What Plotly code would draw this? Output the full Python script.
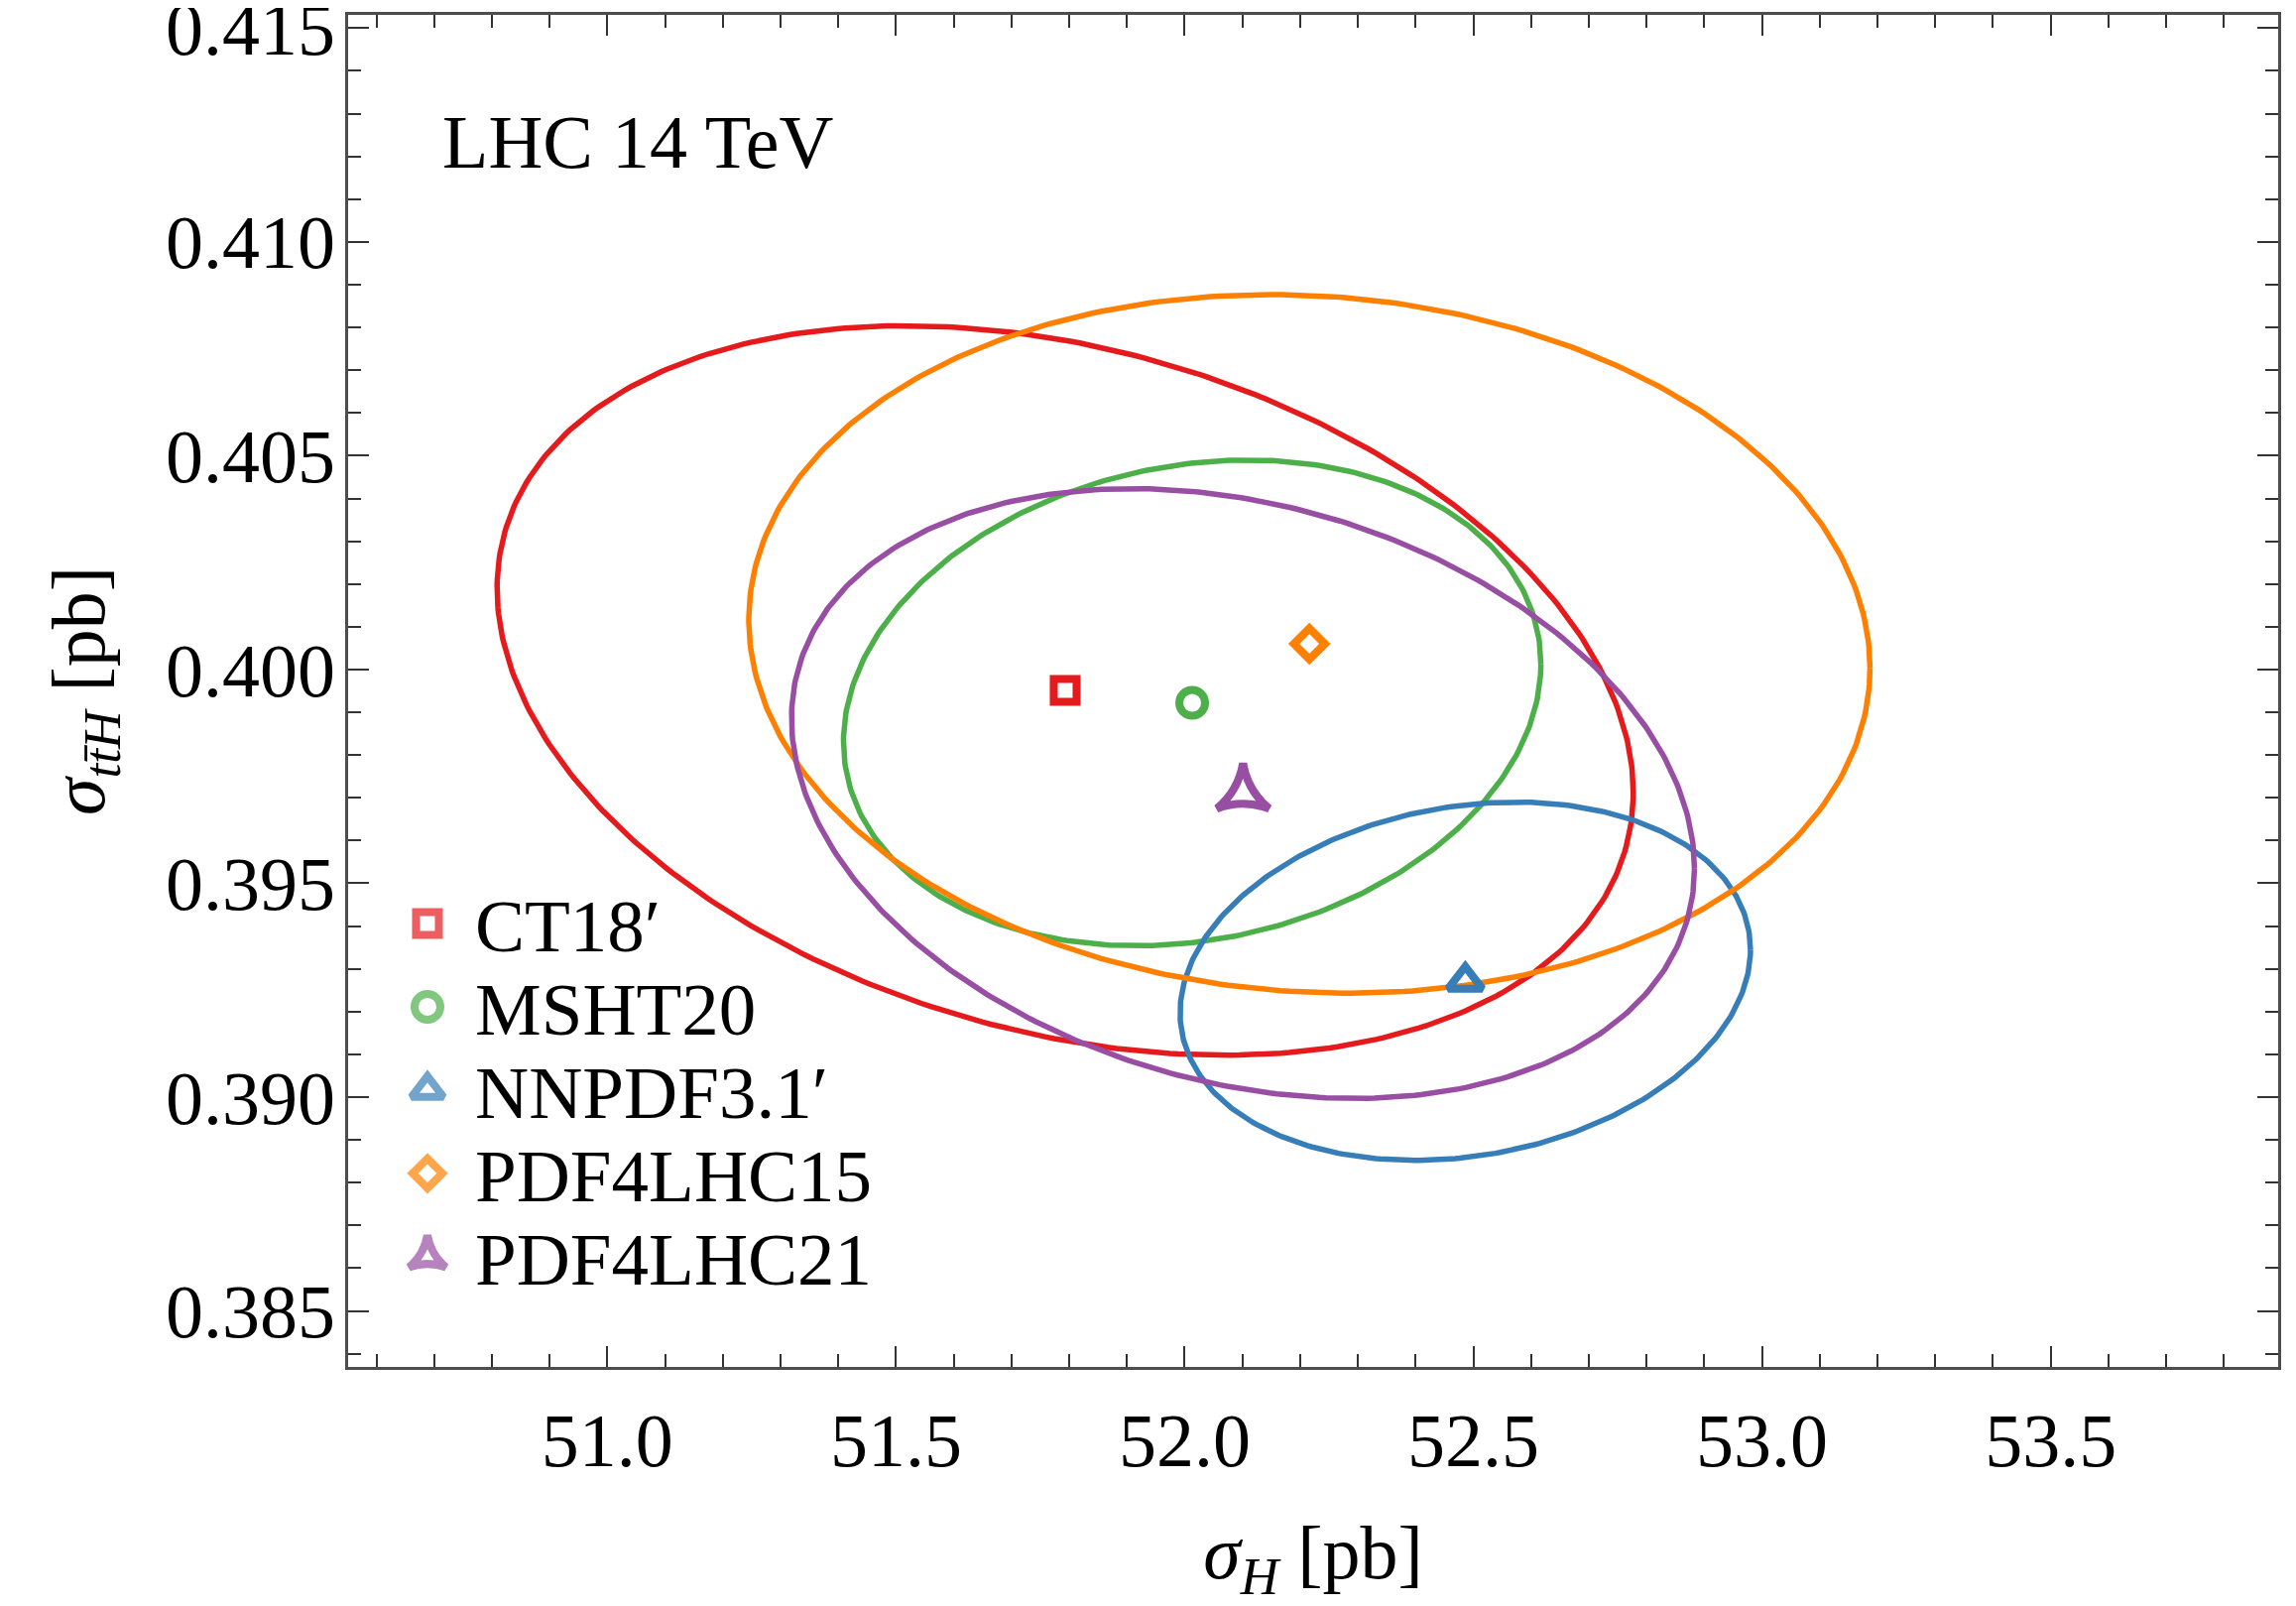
import numpy as np
import plotly.graph_objects as go

# ---------------- data ----------------
pdf_sets = ["CT18′", "MSHT20", "NNPDF3.1′", "PDF4LHC15", "PDF4LHC21"]
colors = ["#e41a1c", "#4daf4a", "#377eb8", "#ff7f00", "#984ea3"]
symbols = ["square-open", "circle-open", "triangle-up-open", "diamond-open", "star-triangle-up-open"]
marker_sizes = [23, 26, 30, 24, 38]
legend_marker_sizes = [23, 26, 28, 23, 27]

# central values
sigma_H = [51.793, 52.013, 52.486, 52.216, 52.101]          # pb
sigma_ttH = [0.39951, 0.39922, 0.39271, 0.40060, 0.39710]   # pb
# ellipse half extents and correlation
err_H = [0.984, 0.604, 0.494, 0.971, 0.782]
err_ttH = [0.00853, 0.00568, 0.00419, 0.00817, 0.00713]
corr = [-0.28, 0.16, 0.176, -0.069, -0.246]

x_range = [50.551, 53.894]
y_range = [0.38369, 0.41531]

FONT = "Liberation Serif, Times New Roman, serif"

fig = go.Figure()

t = np.linspace(0, 2 * np.pi, 400)
for i, name in enumerate(pdf_sets):
    ex = sigma_H[i] + err_H[i] * np.cos(t)
    ey = sigma_ttH[i] + err_ttH[i] * (corr[i] * np.cos(t) + np.sqrt(1 - corr[i] ** 2) * np.sin(t))
    fig.add_trace(go.Scatter(x=ex, y=ey, mode="lines", line=dict(color=colors[i], width=5.5),
                             showlegend=False, hoverinfo="skip"))

for i, name in enumerate(pdf_sets):
    fig.add_trace(go.Scatter(x=[sigma_H[i]], y=[sigma_ttH[i]], mode="markers", name=name,
                             marker=dict(symbol=symbols[i], size=marker_sizes[i], color=colors[i],
                                         line=dict(width=8, color=colors[i])),
                             showlegend=False))

# ---------------- manual legend (large symbols) ----------------
LEG_X_SYM = 0.0411
LEG_X_TXT = 0.0645
LEG_Y0 = 0.328
LEG_DY = 0.0616
leg_y = [LEG_Y0 - k * LEG_DY for k in range(len(pdf_sets))]
fig.add_trace(go.Scatter(x=[LEG_X_SYM] * len(pdf_sets), y=leg_y, mode="markers",
                         xaxis="x2", yaxis="y2", showlegend=False, hoverinfo="skip",
                         marker=dict(symbol=symbols, size=legend_marker_sizes, color=colors,
                                     line=dict(width=8, color=colors))))
for k, name in enumerate(pdf_sets):
    fig.add_annotation(x=LEG_X_TXT, y=leg_y[k] - 0.002, xref="paper", yref="paper", text=name,
                       showarrow=False, xanchor="left", yanchor="middle",
                       font=dict(family=FONT, size=75, color="black"))

fig.add_annotation(x=0.0477, y=0.906, xref="paper", yref="paper", text="LHC 14 TeV",
                   showarrow=False, xanchor="left", yanchor="middle",
                   font=dict(family=FONT, size=76, color="black"))

axis_common = dict(
    showline=True, linecolor="#4d4d4d", linewidth=2.5, mirror="allticks",
    ticks="inside", ticklen=21, tickwidth=2, tickcolor="#333333",
    showgrid=False, zeroline=False, ticklabeloverflow="allow", automargin=False,
    tickfont=dict(family=FONT, size=76, color="black"),
)

# the page body has an 8px default margin, so the figure is 8px smaller
fig.update_layout(
    width=2307, height=1611,
    margin=dict(l=343, r=18, t=7, b=241),
    paper_bgcolor="white", plot_bgcolor="white",
    showlegend=False,
    xaxis=dict(range=x_range, dtick=0.5, tick0=51.0, tickformat=".1f",
               minor=dict(ticks="inside", ticklen=13, tickwidth=2, tickcolor="#333333", dtick=0.1, showgrid=False),
               title=dict(text="<i>σ</i><sub><i>H</i></sub> [pb]", font=dict(family=FONT, size=76, color="black"), standoff=72),
               ticklabelstandoff=6,
               **axis_common),
    yaxis=dict(range=y_range, dtick=0.005, tick0=0.385, tickformat=".3f",
               minor=dict(ticks="inside", ticklen=13, tickwidth=2, tickcolor="#333333", dtick=0.001, showgrid=False),
               title=dict(text="<i>σ</i><sub><i>tt̄H</i></sub> [pb]", font=dict(family=FONT, size=76, color="black"), standoff=37),
               ticklabelstandoff=-5,
               **axis_common),
    xaxis2=dict(range=[0, 1], overlaying="x", visible=False, fixedrange=True),
    yaxis2=dict(range=[0, 1], overlaying="y", visible=False, fixedrange=True),
)

fig.write_html("out.html")
